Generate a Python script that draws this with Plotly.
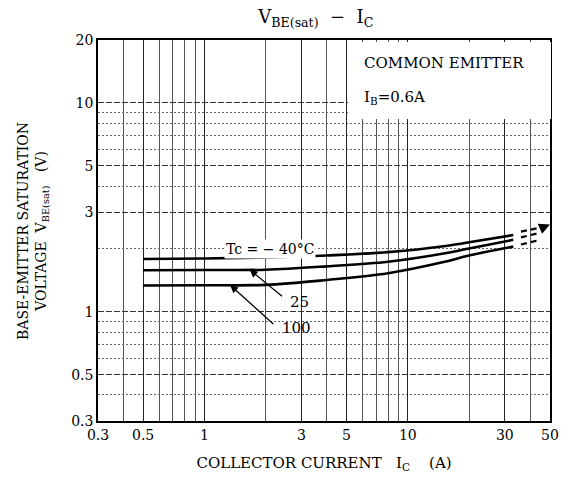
import numpy as np
import plotly.graph_objects as go

# ---- data ----
ic = [0.5, 1, 2, 4, 8, 15, 20, 33]
v_m40 = [1.79, 1.80, 1.82, 1.86, 1.93, 2.06, 2.15, 2.33]
v_25 = [1.58, 1.585, 1.59, 1.65, 1.735, 1.90, 2.01, 2.21]
v_100 = [1.335, 1.34, 1.345, 1.42, 1.53, 1.73, 1.86, 2.05]

ic_ext = [36, 44]
v_m40_ext = [2.42, 2.52]
v_25_ext = [2.27, 2.38]
v_100_ext = [2.10, 2.20]

x_ticks = [0.3, 0.5, 1, 3, 5, 10, 30, 50]
x_ticktext = ["0.3", "0.5", "1", "3", "5", "10", "30", "50"]
x_minor = [0.4, 0.6, 0.7, 0.8, 0.9, 2, 4, 6, 7, 8, 9, 20, 40]
y_ticks = [0.3, 0.5, 1, 3, 5, 10, 20]
y_ticktext = ["0.3", "0.5", "1", "3", "5", "10", "20"]
y_minor = [0.4, 0.6, 0.7, 0.8, 0.9, 2, 4, 6, 7, 8, 9]

FONT = "DejaVu Serif"
L = np.log10

fig = go.Figure()
for v in (v_m40, v_25, v_100):
    fig.add_trace(go.Scatter(x=ic, y=v, mode="lines",
                             line=dict(color="black", width=2.6, shape="spline"),
                             showlegend=False, hoverinfo="skip"))
for v in (v_m40_ext, v_25_ext, v_100_ext):
    fig.add_trace(go.Scatter(x=ic_ext, y=v, mode="lines",
                             line=dict(color="black", width=2.2, dash="6px,4px"),
                             showlegend=False, hoverinfo="skip"))

ann = []
# white box behind the "COMMON EMITTER" block (covers the grid there)
ann.append(dict(xref="paper", yref="paper", x=0.553, y=0.996, xanchor="left", yanchor="top",
                text=" ", showarrow=False, bgcolor="white", width=203, height=77,
                borderpad=0, borderwidth=0))
ann.append(dict(xref="paper", yref="paper", x=0.583, y=0.94, xanchor="left", yanchor="middle",
                text="COMMON EMITTER", showarrow=False,
                font=dict(family=FONT, size=15, color="black")))
ann.append(dict(xref="paper", yref="paper", x=0.583, y=0.85, xanchor="left", yanchor="middle",
                text="I<sub>B</sub>=0.6A", showarrow=False,
                font=dict(family=FONT, size=15, color="black")))
ann.append(dict(x=L(2.09), y=L(2.0), text="Tc = − 40°C", showarrow=False,
                bgcolor="white", font=dict(family=FONT, size=14, color="black")))
ann.append(dict(x=L(2.95), y=L(1.115), text="25", showarrow=False,
                font=dict(family=FONT, size=15, color="black")))
ann.append(dict(x=L(2.85), y=L(0.838), text="100", showarrow=False,
                font=dict(family=FONT, size=15, color="black")))
# leader arrows
ann.append(dict(x=L(1.67), y=L(1.59), ax=L(2.45), ay=L(1.17), axref="x", ayref="y",
                text="", showarrow=True, arrowhead=2, arrowsize=1.2, arrowwidth=1.3,
                arrowcolor="black"))
ann.append(dict(x=L(1.34), y=L(1.34), ax=L(2.22), ay=L(0.86), axref="x", ayref="y",
                text="", showarrow=True, arrowhead=2, arrowsize=1.2, arrowwidth=1.3,
                arrowcolor="black"))
ann.append(dict(x=L(50), y=L(2.62), ax=L(46), ay=L(2.53), axref="x", ayref="y",
                text="", showarrow=True, arrowhead=2, arrowsize=1.1, arrowwidth=2,
                arrowcolor="black"))
# y-axis title (two lines)
ann.append(dict(xref="paper", yref="paper", x=-0.145, y=0.5, xanchor="center", yanchor="middle",
                text="BASE-EMITTER SATURATION<br>VOLTAGE  V<sub>BE(sat)</sub>   (V)",
                showarrow=False, textangle=-90,
                font=dict(family=FONT, size=14, color="black")))

fig.update_layout(
    width=569, height=484,
    margin=dict(l=98, r=10, t=40, b=63),
    paper_bgcolor="white", plot_bgcolor="white",
    title=dict(text="V<sub>BE(sat)</sub>  −  I<sub>C</sub>", x=0.555, xanchor="center",
               y=0.965, yanchor="middle",
               font=dict(family=FONT, size=18, color="black")),
    annotations=ann,
    font=dict(family=FONT, color="black"),
)
fig.update_xaxes(type="log", range=[L(0.3), L(50)],
                 tickmode="array", tickvals=x_ticks, ticktext=x_ticktext,
                 tickfont=dict(family=FONT, size=14, color="black"),
                 ticks="", showline=True, linecolor="black", linewidth=1.5, mirror=True,
                 showgrid=True, gridcolor="#222", gridwidth=1.2,
                 minor=dict(tickvals=x_minor, showgrid=True, gridcolor="#555", gridwidth=1),
                 zeroline=False,
                 title=dict(text="COLLECTOR CURRENT   I<sub>C</sub>    (A)",
                            font=dict(family=FONT, size=15, color="black"), standoff=16))
fig.update_yaxes(type="log", range=[L(0.3), L(20)],
                 tickmode="array", tickvals=y_ticks, ticktext=y_ticktext,
                 tickfont=dict(family=FONT, size=14, color="black"),
                 ticks="", showline=True, linecolor="black", linewidth=1.5, mirror=True,
                 showgrid=True, gridcolor="#333", gridwidth=1, griddash="6px,2px",
                 minor=dict(tickvals=y_minor, showgrid=True, gridcolor="#666", gridwidth=1,
                            griddash="2px,2px"),
                 zeroline=False)

fig.write_html("out.html")
